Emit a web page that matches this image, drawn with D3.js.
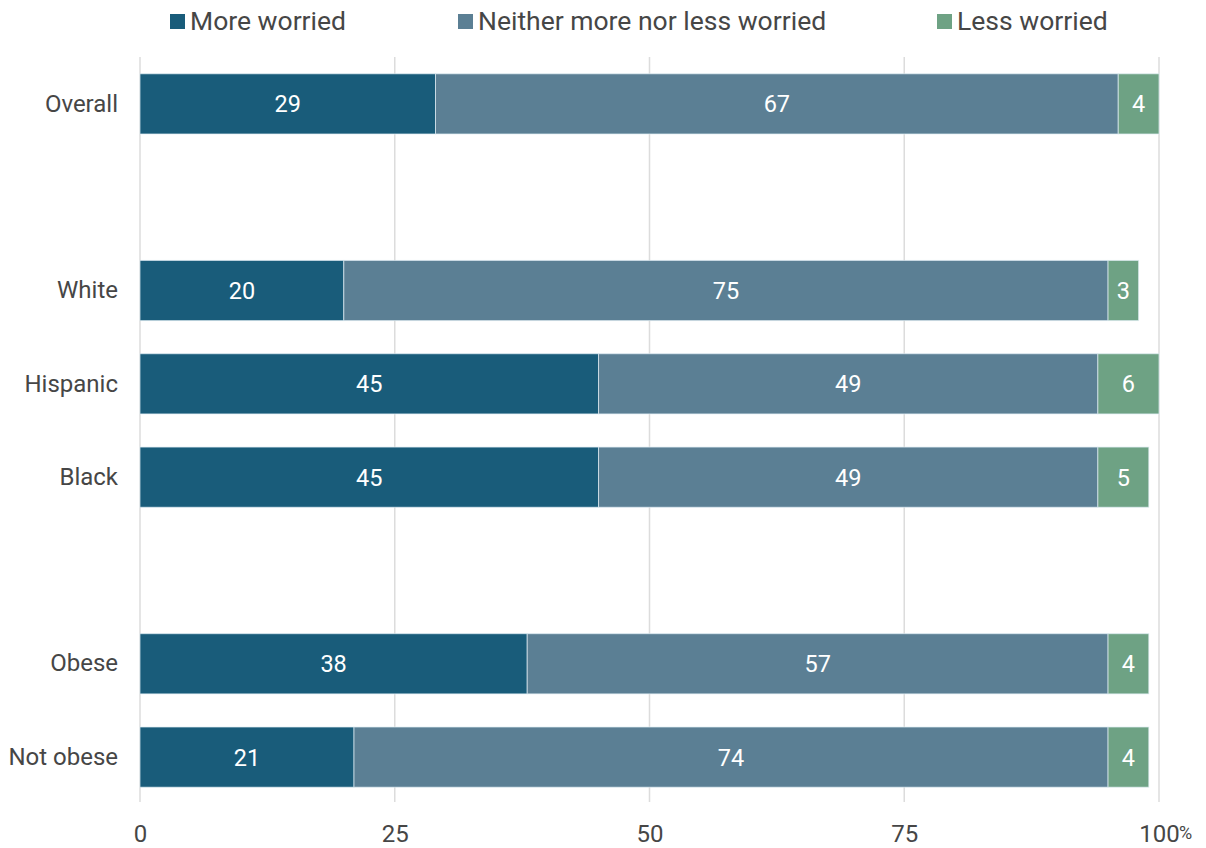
<!DOCTYPE html>
<html>
<head>
<meta charset="utf-8">
<script src="https://cdn.jsdelivr.net/npm/d3@7"></script>
<style>
  html, body { margin: 0; padding: 0; background: #fff; }
  svg { display: block; font-family: Roboto, "Noto Sans", sans-serif; }
</style>
</head>
<body>
<svg id="chart" width="1206" height="848"></svg>
<script>
// Rows, with empty spacer rows separating the groups
const categories = ["Overall", "spacer1", "White", "Hispanic", "Black", "spacer2", "Obese", "Not obese"];
const seriesNames = ["More worried", "Neither more nor less worried", "Less worried"];
const moreWorried =    [29, null, 20, 45, 45, null, 38, 21];
const neitherWorried = [67, null, 75, 49, 49, null, 57, 74];
const lessWorried =    [4,  null, 3,  6,  5,  null, 4,  4];
const xTicks = [0, 25, 50, 75, 100];
const colors = ["#195c7a", "#5b7f94", "#6ea284"];

const svg = d3.select("#chart");
const margin = { left: 140, right: 47, top: 57, bottom: 44 };
const W = 1206, H = 848;

const x = d3.scaleLinear().domain([0, 100]).range([margin.left, W - margin.right]);
const y = d3.scaleBand().domain(categories)
  .range([margin.top, H - margin.bottom]).paddingInner(0.355).paddingOuter(0.18);

const rows = categories.map((c, i) => ({
  cat: c, vals: [moreWorried[i], neitherWorried[i], lessWorried[i]]
})).filter(r => r.vals[0] != null);

// vertical gridlines
svg.append("g").selectAll("line").data(xTicks).join("line")
  .attr("x1", d => x(d)).attr("x2", d => x(d))
  .attr("y1", margin.top).attr("y2", H - margin.bottom - 2)
  .attr("stroke", "#dcdcdc").attr("stroke-width", 1.5);

// stacked bars
const segs = [];
rows.forEach(r => {
  let acc = 0;
  r.vals.forEach((v, k) => {
    segs.push({ cat: r.cat, k, x0: acc, x1: acc + v, v });
    acc += v;
  });
});

const g = svg.append("g");
g.selectAll("rect").data(segs).join("rect")
  .attr("x", d => x(d.x0))
  .attr("y", d => y(d.cat))
  .attr("width", d => x(d.x1) - x(d.x0))
  .attr("height", y.bandwidth())
  .attr("fill", d => colors[d.k])
  .attr("stroke", "rgba(225,238,245,0.7)")
  .attr("stroke-width", 1);

g.selectAll("text").data(segs).join("text")
  .attr("x", d => (x(d.x0) + x(d.x1)) / 2)
  .attr("y", d => y(d.cat) + y.bandwidth() / 2)
  .attr("dy", "0.36em")
  .attr("text-anchor", "middle")
  .attr("fill", "#fff")
  .attr("font-size", 23.5)
  .text(d => d.v);

// category labels
const yAxis = d3.axisLeft(y).tickSize(0).tickPadding(22)
  .tickFormat(d => d.startsWith("spacer") ? "" : d);
const ya = svg.append("g").attr("transform", `translate(${margin.left},0)`).call(yAxis);
ya.select(".domain").remove();
ya.selectAll("text").attr("font-size", 24).attr("fill", "#464646")
  .attr("font-family", "Roboto, sans-serif");

// x axis labels
const xAxis = d3.axisBottom(x).tickValues(xTicks).tickSize(0).tickPadding(0)
  .tickFormat(d => d);
const xa = svg.append("g").attr("transform", `translate(0,${H - 15})`).call(xAxis);
xa.select(".domain").remove();
xa.selectAll("text").attr("font-size", 24).attr("fill", "#464646")
  .attr("font-family", "Roboto, sans-serif").attr("dy", "0.36em");
// percent sign after the last tick label
xa.append("text")
  .attr("x", x(100) + 20).attr("y", 0).attr("dy", "0.36em")
  .attr("font-size", 18).attr("fill", "#464646").attr("text-anchor", "start")
  .attr("font-family", "Roboto, sans-serif")
  .text("%");

// legend
const legendX = [170, 458, 937];
const lg = svg.append("g").selectAll("g").data(seriesNames).join("g")
  .attr("transform", (d, i) => `translate(${legendX[i]},0)`);
lg.append("rect").attr("x", 0).attr("y", 14).attr("width", 15).attr("height", 15)
  .attr("fill", (d, i) => colors[i]);
lg.append("text").attr("x", 20).attr("y", 20).attr("dy", "0.36em")
  .attr("font-size", 26.5).attr("fill", "#464646").text(d => d);
</script>
</body>
</html>
